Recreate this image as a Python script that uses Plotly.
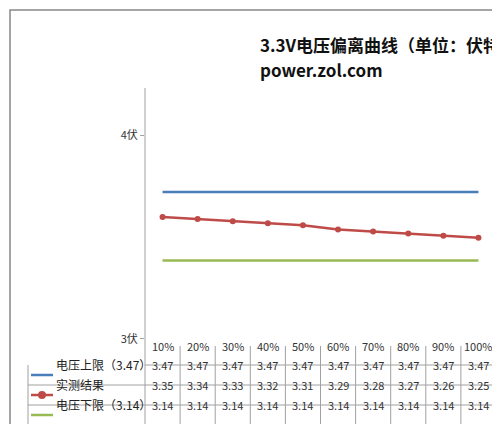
import plotly.graph_objects as go

loads = ["10%", "20%", "30%", "40%", "50%", "60%", "70%", "80%", "90%", "100%"]
upper = [3.47] * 10
measured = [3.35, 3.34, 3.33, 3.32, 3.31, 3.29, 3.28, 3.27, 3.26, 3.25]
lower = [3.14] * 10
names = ["电压上限（3.47）", "实测结果", "电压下限（3.14）"]
colors = ["#4a7ebb", "#be4b48", "#98b954"]

W, H = 500, 424
L, R, T, B = 137, 488, 80, 338
font = "Noto Sans CJK SC"

def py(p):  # pixel y -> paper y
    return (B - p) / (B - T)

def px(p):  # pixel x -> paper x
    return (p - L) / (R - L)

fig = go.Figure()
xs = list(range(10))
for vals, c, name in zip([upper, measured, lower], colors, names):
    fig.add_trace(go.Scatter(x=xs, y=vals, name=name, mode="lines+markers" if name == "实测结果" else "lines",
                             line=dict(color=c, width=2.5), marker=dict(size=6, color=c)))

shapes = []
line_c = "#a0a0a0"
rows = [338, 357, 377, 397, 417]
# horizontal table lines
shapes.append(dict(type="line", xref="paper", yref="paper", x0=0, x1=1, y0=py(357), y1=py(357), line=dict(color=line_c, width=1)))
for r in rows[2:]:
    shapes.append(dict(type="line", xref="paper", yref="paper", x0=px(20), x1=1, y0=py(r), y1=py(r), line=dict(color=line_c, width=1)))
# vertical table lines
for i in range(11):
    xp = px(L + i * (R - L) / 10)
    shapes.append(dict(type="line", xref="paper", yref="paper", x0=xp, x1=xp, y0=py(338), y1=py(417), line=dict(color=line_c, width=1)))
shapes.append(dict(type="line", xref="paper", yref="paper", x0=px(20), x1=px(20), y0=py(357), y1=py(417), line=dict(color=line_c, width=1)))

ann = []
for i, lab in enumerate(loads):
    ann.append(dict(x=i, y=py(347.5), xref="x", yref="paper", text=lab, showarrow=False, font=dict(size=11, color="#333")))
for k, vals in enumerate([upper, measured, lower]):
    yc = py((rows[k + 1] + rows[k + 2]) / 2)
    for i, v in enumerate(vals):
        ann.append(dict(x=i, y=yc, xref="x", yref="paper", text=f"{v:.2f}", showarrow=False, font=dict(size=11, color="#333")))
    ann.append(dict(x=px(46), y=yc, xref="paper", yref="paper", text=names[k], xanchor="left", showarrow=False, font=dict(size=12, color="#222")))
    shapes.append(dict(type="line", xref="paper", yref="paper", x0=px(23), x1=px(45), y0=yc, y1=yc, line=dict(color=colors[k], width=2.5)))
    if k == 1:
        shapes.append(dict(type="circle", xref="paper", yref="paper", x0=px(31), x1=px(37), y0=yc - 3 / 258, y1=yc + 3 / 258,
                           fillcolor=colors[k], line=dict(color=colors[k])))

ann.append(dict(x=px(250), y=py(22), xref="paper", yref="paper", text="<b>3.3V电压偏离曲线（单位：伏特）</b>",
                showarrow=False, font=dict(size=17, color="#111")))
ann.append(dict(x=px(250), y=py(47), xref="paper", yref="paper", text="<b>power.zol.com</b>",
                showarrow=False, font=dict(size=17, color="#111")))

shapes.append(dict(type="rect", xref="paper", yref="paper", x0=px(2), x1=px(497), y0=py(2), y1=py(421), line=dict(color="#888", width=1.5)))
shapes.append(dict(type="line", xref="paper", yref="paper", x0=0, x1=0, y0=0, y1=1, line=dict(color=line_c, width=1)))

fig.update_layout(
    width=W, height=H, margin=dict(l=L, r=W - R, t=T, b=H - B),
    paper_bgcolor="white", plot_bgcolor="white", showlegend=False,
    font=dict(family=font), shapes=shapes, annotations=ann,
    xaxis=dict(range=[-0.5, 9.5], showticklabels=False, showgrid=False, zeroline=False),
    yaxis=dict(range=[2.728, 3.972], tickvals=[2.762, 3.743], ticktext=["3伏", "4伏"], showgrid=False,
               zeroline=False, ticks="outside", ticklen=4, tickcolor=line_c, tickfont=dict(size=11, color="#333")),
)
fig.write_html("out.html")
